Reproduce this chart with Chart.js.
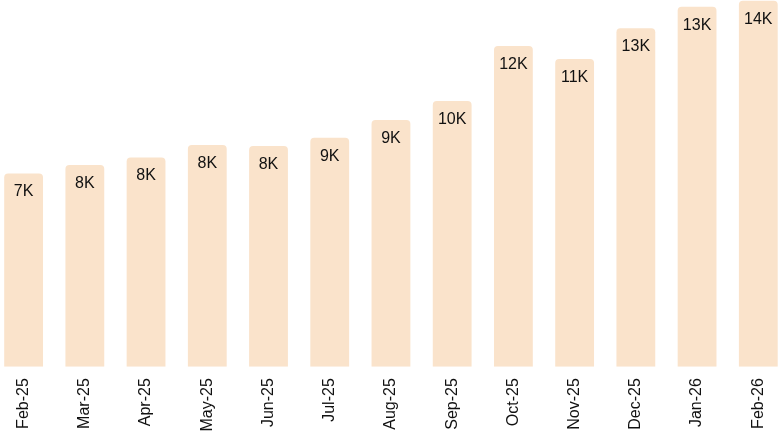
<!DOCTYPE html>
<html>
<head>
<meta charset="utf-8">
<script src="https://cdn.jsdelivr.net/npm/chart.js@4/dist/chart.umd.min.js"></script>
<style>
html,body{margin:0;padding:0;background:#fff;overflow:hidden;width:778px;height:432px;}
#wrap{position:absolute;left:-7.2px;top:0;width:796px;height:432px;}
</style>
</head>
<body>
<div id="wrap"><canvas id="c"></canvas></div>
<script>
const categories = ['Feb-25','Mar-25','Apr-25','May-25','Jun-25','Jul-25','Aug-25','Sep-25','Oct-25','Nov-25','Dec-25','Jan-26','Feb-26'];
const values = [7200, 7510, 7790, 8260, 8220, 8530, 9190, 9900, 11950, 11460, 12610, 13410, 13630];
const yMax = 13660;

const fmt = v => Math.round(v / 1000) + 'K';

const labelPlugin = {
  id: 'barLabels',
  afterDatasetsDraw(chart) {
    const ctx = chart.ctx;
    const meta = chart.getDatasetMeta(0);
    ctx.save();
    ctx.font = '16px "Liberation Sans", Arial, sans-serif';
    ctx.fillStyle = '#111111';
    ctx.textAlign = 'center';
    ctx.textBaseline = 'middle';
    meta.data.forEach((bar, i) => {
      ctx.fillText(fmt(values[i]), bar.x, bar.y + 18.5);
    });
    ctx.restore();
  }
};

new Chart(document.getElementById('c'), {
  type: 'bar',
  data: {
    labels: categories,
    datasets: [{
      data: values,
      backgroundColor: '#FAE3CB',
      borderRadius: 4,
      borderSkipped: 'start',
      barPercentage: 0.634,
      categoryPercentage: 1
    }]
  },
  options: {
    responsive: true,
    maintainAspectRatio: false,
    animation: false,
    layout: { padding: 0 },
    plugins: { legend: { display: false }, tooltip: { enabled: false } },
    scales: {
      x: {
        grid: { display: false, drawTicks: false },
        border: { display: false },
        ticks: {
          minRotation: 90, maxRotation: 90, padding: 11.5,
          color: '#111111',
          font: { family: '"Liberation Sans", Arial, sans-serif', size: 16 }
        },
        afterFit(scale) { scale.height = 65.3; }
      },
      y: { display: false, min: 0, max: yMax }
    }
  },
  plugins: [labelPlugin]
});
</script>
</body>
</html>
